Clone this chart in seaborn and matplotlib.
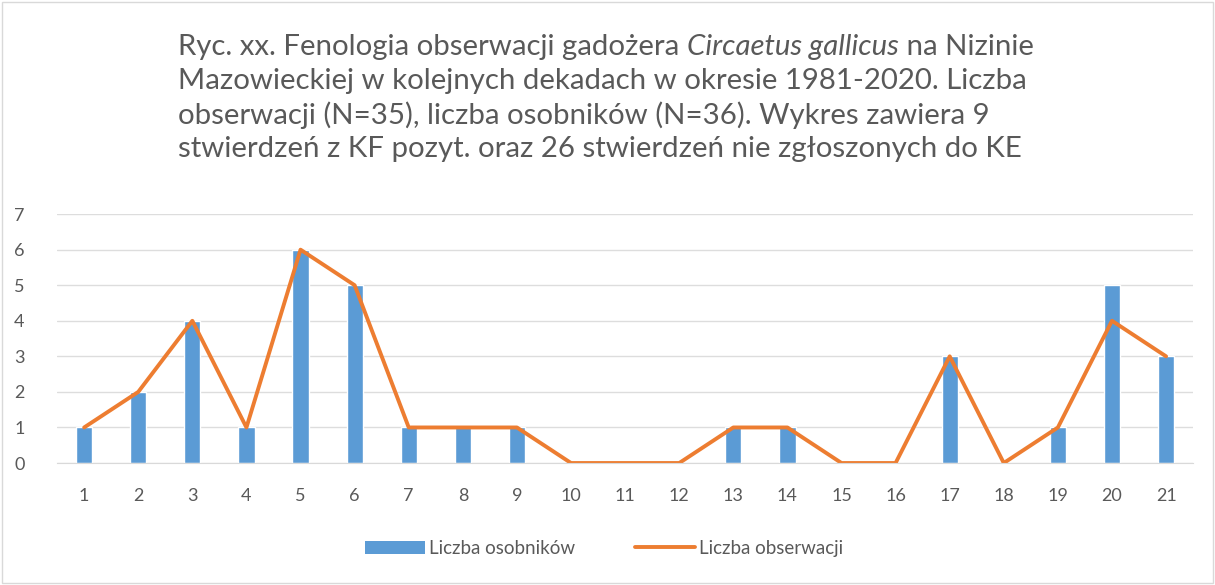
import numpy as np
import pandas as pd
import seaborn as sns
import matplotlib.pyplot as plt
from matplotlib.patches import Patch, Rectangle
from matplotlib.lines import Line2D

sns.set_style('white')
plt.rcParams['font.family'] = ['Lato', 'DejaVu Sans']

dekady = [str(i) for i in range(1, 22)]
osobniki = [1, 2, 4, 1, 6, 5, 1, 1, 1, 0, 0, 0, 1, 1, 0, 0, 3, 0, 1, 5, 3]
obserwacje = [1, 2, 4, 1, 6, 5, 1, 1, 1, 0, 0, 0, 1, 1, 0, 0, 3, 0, 1, 4, 3]

df = pd.DataFrame({'dekada': dekady, 'osobniki': osobniki, 'obserwacje': obserwacje})
df['pos'] = range(len(df))

blue = '#5B9BD5'
orange = '#ED7D31'
grey = '#595959'

fig = plt.figure(figsize=(12.15, 5.85), dpi=100)
ax = fig.add_axes([0.047, 0.2085, 0.935, 0.4255])

sns.barplot(data=df, x='dekada', y='osobniki', color=blue, width=0.3,
            saturation=1, ax=ax)
sns.lineplot(data=df, x='pos', y='obserwacje', color=orange, linewidth=2.8, ax=ax)

ax.set_ylim(0, 7)
ax.set_xlim(-0.5, 20.5)
ax.set_yticks(range(8))
ax.yaxis.grid(True, color='#DDDDDD', linewidth=1)
ax.set_axisbelow(True)
for s in ['top', 'right', 'left']:
    ax.spines[s].set_visible(False)
ax.spines['bottom'].set_color('#D9D9D9')
ax.tick_params(axis='both', length=0, labelsize=13, labelcolor=grey)
ax.tick_params(axis='x', pad=18)
ax.tick_params(axis='y', pad=31)
for lab in ax.get_yticklabels():
    lab.set_horizontalalignment('left')
ax.set_xlabel(None)
ax.set_ylabel(None)

# border around the whole chart
fig.patches.append(Rectangle((0.002, 0.003), 0.996, 0.994, transform=fig.transFigure,
                             fill=False, edgecolor='#D9D9D9', linewidth=1))

# title, left aligned, with italic species name in line 1
fs = 21.2
x_left = 0.1465
renderer = fig.canvas.get_renderer()
parts = [('Ryc. xx. Fenologia obserwacji gadożera ', 'normal'),
         ('Circaetus gallicus', 'italic'),
         (' na Nizinie', 'normal')]
x0 = x_left * fig.bbox.width
for s, st in parts:
    t = fig.text(x0 / fig.bbox.width, 0.92, s, fontsize=fs, style=st, color=grey,
                 va='center')
    x0 += t.get_window_extent(renderer).width
rest = ['Mazowieckiej w kolejnych dekadach w okresie 1981-2020. Liczba',
        'obserwacji (N=35), liczba osobników (N=36). Wykres zawiera 9',
        'stwierdzeń z KF pozyt. oraz 26 stwierdzeń nie zgłoszonych do KE']
for i, line in enumerate(rest):
    fig.text(x_left, 0.92 - (i + 1) * 0.0585, line, fontsize=fs, color=grey,
             ha='left', va='center')

handles = [Patch(facecolor=blue, edgecolor='none'),
           Line2D([0], [0], color=orange, linewidth=2.8)]
fig.legend(handles, ['Liczba osobników', 'Liczba obserwacji'], loc='center',
           bbox_to_anchor=(0.497, 0.063), ncol=2, frameon=False, fontsize=13.5,
           labelcolor=grey, handlelength=3.2, handletextpad=0.2, columnspacing=3.2)

fig.savefig('out.png', dpi=100)
